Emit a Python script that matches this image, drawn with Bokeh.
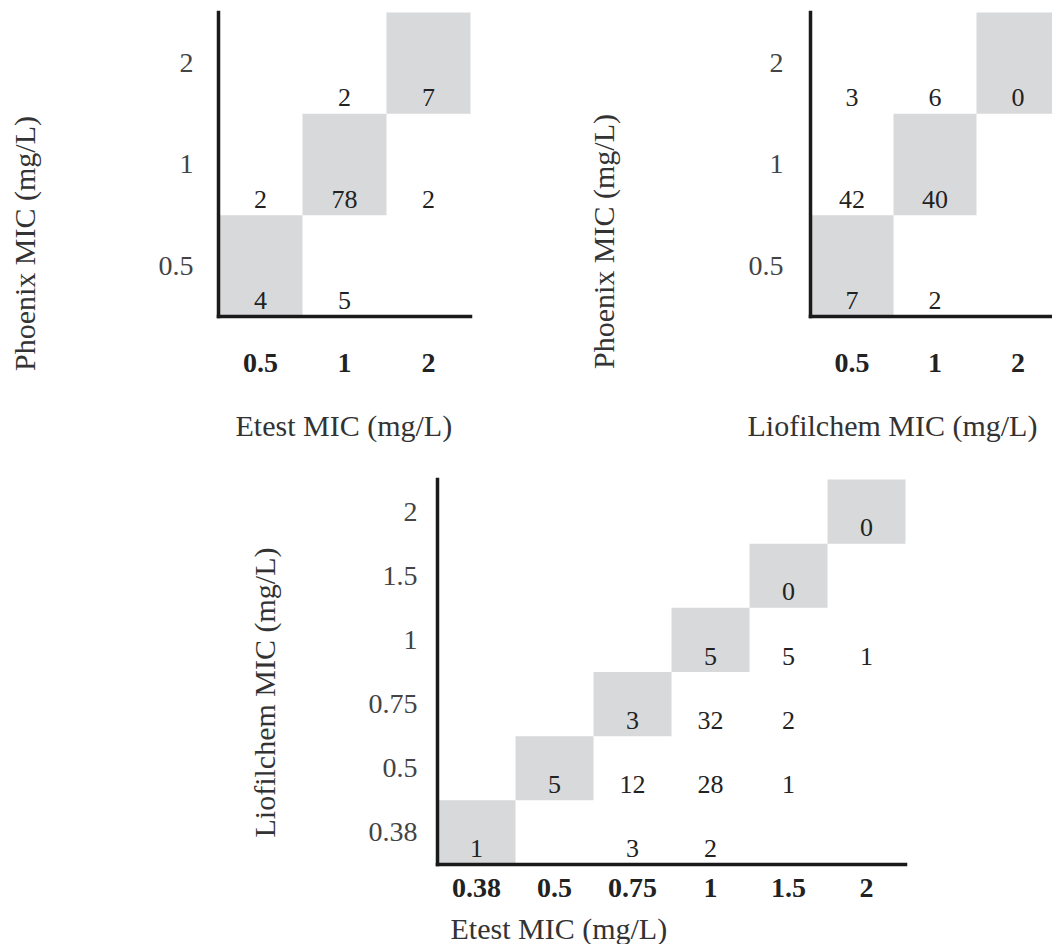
import math
from bokeh.plotting import figure
from bokeh.models import Range1d, FixedTicker, Label
from bokeh.layouts import column, row
from bokeh.embed import file_html
from bokeh.resources import INLINE
from bokeh.core.properties import value

FONT = "Liberation Serif"
GREY = "#d8d9db"

# MIC categories (mg/L)
MIC3 = ["0.5", "1", "2"]
MIC6 = ["0.38", "0.5", "0.75", "1", "1.5", "2"]

# rows = Phoenix MIC (0.5, 1, 2); columns = Etest MIC (0.5, 1, 2)
ETEST_VS_PHOENIX = [
    [4, 5, None],
    [2, 78, 2],
    [None, 2, 7],
]
# rows = Phoenix MIC (0.5, 1, 2); columns = Liofilchem MIC (0.5, 1, 2)
LIOFIL_VS_PHOENIX = [
    [7, 2, None],
    [42, 40, None],
    [3, 6, 0],
]
# rows = Liofilchem MIC (0.38 .. 2); columns = Etest MIC (0.38 .. 2)
ETEST_VS_LIOFIL = [
    [1, None, 3, 2, None, None],
    [None, 5, 12, 28, 1, None],
    [None, None, 3, 32, 2, None],
    [None, None, None, 5, 5, 1],
    [None, None, None, None, 0, None],
    [None, None, None, None, None, 0],
]

X_TITLES = ["Etest MIC (mg/L)", "Liofilchem MIC (mg/L)", "Etest MIC (mg/L)"]
Y_TITLES = ["Phoenix MIC (mg/L)", "Phoenix MIC (mg/L)", "Liofilchem MIC (mg/L)"]


def panel(matrix, cats, xtitle, ytitle, W, H, L, T, cw, ch,
          ystand, xstand, xt_pos, yt_pos, text_lift=16):
    """W,H canvas size; L,T top-left of the cell block; cw,ch cell size (px)."""
    n = len(cats)
    B = T + n * ch
    x0 = -0.5 - L / cw
    y0 = -0.5 - (H - B) / ch
    p = figure(width=W, height=H,
               x_range=Range1d(x0, x0 + W / cw), y_range=Range1d(y0, y0 + H / ch),
               output_backend="svg", toolbar_location=None,
               min_border_left=0, min_border_top=0,
               min_border_right=0, min_border_bottom=0)
    p.outline_line_color = None
    p.grid.visible = False
    p.background_fill_color = "white"
    p.border_fill_color = "white"

    diag = list(range(n))
    p.rect(x=diag, y=diag, width=1, height=1, fill_color=GREY, line_color=None)

    lift = text_lift / ch  # counts sit near the bottom of their cell
    xs, ys, ts = [], [], []
    for r, rowvals in enumerate(matrix):
        for c, v in enumerate(rowvals):
            if v is not None:
                xs.append(c)
                ys.append(r - 0.5 + lift)
                ts.append(str(v))
    p.text(x=xs, y=ys, text=ts, text_align="center", text_baseline="middle",
           text_font=value(FONT), text_font_size="26px", text_color="#222222")

    labels = {i: c for i, c in enumerate(cats)}
    for ax in (p.xaxis[0], p.yaxis[0]):
        ax.fixed_location = -0.5
        ax.bounds = (-0.5, n - 0.5)
        ax.ticker = FixedTicker(ticks=diag)
        ax.major_label_overrides = labels
        ax.major_tick_line_color = None
        ax.minor_tick_line_color = None
        ax.major_tick_out = 0
        ax.major_tick_in = 0
        ax.axis_line_width = 3.5
        ax.axis_line_color = "#1a1a1a"
        ax.axis_line_cap = "square"
        ax.major_label_text_font = FONT
        ax.major_label_text_font_size = "28px"
    p.xaxis[0].major_label_text_font_style = "bold"
    p.xaxis[0].major_label_text_color = "#222222"
    p.xaxis[0].major_label_standoff = xstand
    p.yaxis[0].major_label_text_color = "#444444"
    p.yaxis[0].major_label_standoff = ystand

    p.add_layout(Label(x=xt_pos[0], y=xt_pos[1], x_units="screen", y_units="screen",
                       text=xtitle, text_font=FONT, text_font_size="30px",
                       text_color="#333333", text_align="left",
                       text_baseline="middle"))
    p.add_layout(Label(x=yt_pos[0], y=yt_pos[1], x_units="screen", y_units="screen",
                       text=ytitle, text_font=FONT, text_font_size="30px",
                       text_color="#333333", text_align="center",
                       text_baseline="middle", angle=math.pi / 2))
    return p


p1 = panel(ETEST_VS_PHOENIX, MIC3, X_TITLES[0], Y_TITLES[0],
           560, 446, 218, 12, 84, 101.33, 25, 38, (235, 21), (24, 203))
p2 = panel(LIOFIL_VS_PHOENIX, MIC3, X_TITLES[1], Y_TITLES[1],
           492, 446, 250, 12, 83, 101.33, 27, 38, (187, 21), (43, 205))
p3 = panel(ETEST_VS_LIOFIL, MIC6, X_TITLES[2], Y_TITLES[2],
           925, 498, 437, 33, 78, 64.17, 20, 14, (450, 16), (264, 252))

layout = column(row(p1, p2), p3)
open("out.html", "w").write(file_html(layout, INLINE))
